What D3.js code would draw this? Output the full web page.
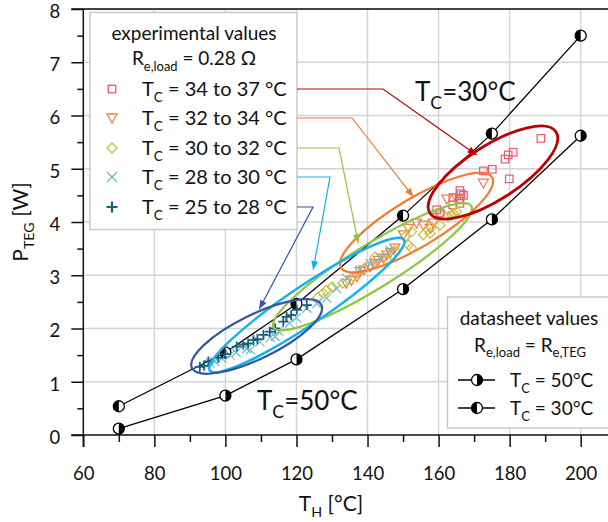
<!DOCTYPE html>
<html>
<head>
<meta charset="utf-8">
<script src="https://cdn.jsdelivr.net/npm/d3@7/dist/d3.min.js"></script>
<style>
  body { margin: 0; background: #fff; }
  text { font-family: Lato, "Open Sans", sans-serif; fill: #111; }
</style>
</head>
<body>
<svg id="chart" width="608" height="522"></svg>
<script>
// datasheet curves (R_e,load = R_e,TEG)
const sheetTH = [70, 100, 120, 150, 175, 200];
const sheetP30 = [0.54, 1.55, 2.46, 4.12, 5.66, 7.50];
const sheetP50 = [0.12, 0.74, 1.42, 2.74, 4.05, 5.62];

// experimental values, [T_H, P_TEG]
const tc34to37 = [[159.5,4.23],[160.4,4.17],[164,4.32],[166,4.35],[165.8,4.43],[164,4.46],[166.3,4.53],
  [166,4.59],[167,4.50],[172.6,4.96],[175.1,4.99],[179.9,4.81],[178.7,5.18],[179.6,5.26],[181,5.31],[188.8,5.57]];
const tc32to34 = [[134,2.85],[135.5,2.90],[137,2.97],[137.9,3.07],[139,3.10],[140.7,3.16],[142,3.22],[143,3.28],
  [144.4,3.32],[145.4,3.38],[146.5,3.43],[147.7,3.51],[150.1,3.76],[151.5,3.88],[153.8,3.98],[155.7,3.94],
  [157.6,3.88],[158.5,3.98],[160.4,4.13],[162.3,4.43],[165,4.45],[172.6,4.73]];
const tc30to32 = [[126,2.58],[127.5,2.66],[128.5,2.72],[130,2.78],[133,2.85],[136,2.98],[139,3.12],[142.1,3.34],
  [145.4,3.29],[148,3.45],[150.5,3.72],[151.5,3.57],[152.4,3.51],[152.4,3.82],[155.7,3.76],[157.6,3.79],
  [158,3.90],[160.4,3.94],[162.7,4.10],[163.7,4.13],[164.1,4.16],[165.1,4.19]];
const tc28to30 = [[95.7,1.35],[97,1.38],[99,1.44],[101.3,1.50],[103,1.55],[106,1.62],[107,1.60],[109.7,1.75],
  [112.6,1.83],[114,1.85],[115,1.95],[118,2.10],[120,2.20],[122.9,2.38],[125.7,2.47],[128.5,2.57],[131.3,2.75],
  [134.1,2.94],[137.9,3.10],[140.7,3.22],[143.5,3.34],[146.3,3.47]];
const tc25to28 = [[92.8,1.28],[94,1.30],[95.2,1.38],[98,1.45],[100,1.52],[103.2,1.66],[105,1.70],[106.4,1.72],
  [107.9,1.78],[109,1.80],[110.7,1.88],[112.5,1.94],[114,2.00],[116.3,2.13],[117.2,2.22],[118.5,2.25],
  [120.1,2.35],[122.9,2.44]];

const groupLabels = ["34 to 37", "32 to 34", "30 to 32", "28 to 30", "25 to 28"];
const xTicks = [60, 80, 100, 120, 140, 160, 180, 200];
const yTicks = [0, 1, 2, 3, 4, 5, 6, 7, 8];

const svg = d3.select("#chart");
const margin = {left: 83.3, right: 27.3, top: 9, bottom: 87};
const x = d3.scaleLinear().domain([60, 200]).range([margin.left, 608 - margin.right]);
const y = d3.scaleLinear().domain([0, 8]).range([522 - margin.bottom, margin.top]);

// grid
const grid = svg.append("g").attr("stroke", "#d4d4d4").attr("stroke-width", 1.4);
xTicks.slice(1).forEach(t => grid.append("line").attr("x1", x(t)).attr("x2", x(t)).attr("y1", y(0)).attr("y2", y(8)));
yTicks.slice(1).forEach(t => grid.append("line").attr("x1", x(60)).attr("x2", 608).attr("y1", y(t)).attr("y2", y(t)));

// axes
const xAxis = svg.append("g").attr("transform", `translate(0,${y(0)})`)
  .call(d3.axisBottom(x).tickValues(d3.range(60, 201, 10)).tickSize(7).tickFormat(""));
xAxis.selectAll(".tick line").filter(d => d % 20 === 0).attr("y2", 12);
xAxis.select(".domain").attr("d", `M${x(60) - 12},0H608`);
const xLab = svg.append("g").attr("transform", `translate(0,${y(0)})`)
  .call(d3.axisBottom(x).tickValues(xTicks).tickSize(0).tickPadding(32));
xLab.select(".domain").remove();

const yAxis = svg.append("g").attr("transform", `translate(${x(60)},0)`)
  .call(d3.axisLeft(y).tickValues(d3.range(0, 8.01, 0.5)).tickSize(6).tickFormat(""));
yAxis.selectAll(".tick line").filter(d => d % 1 === 0).attr("x2", -12);
yAxis.select(".domain").attr("d", `M0,${y(0) + 12}V${y(8)}`);
const yLab = svg.append("g").attr("transform", `translate(${x(60)},0)`)
  .call(d3.axisLeft(y).tickValues(yTicks).tickSize(0).tickPadding(23));
yLab.select(".domain").remove();
yLab.selectAll(".tick text").attr("dy", "0.45em");

svg.selectAll(".tick text").style("font-size", "18.5px").style("font-family", "Lato, sans-serif").attr("fill", "#111");
svg.selectAll(".domain, .tick line").attr("stroke", "#111").attr("stroke-width", 1.5);
svg.append("line").attr("x1", x(60) - 12).attr("x2", 608).attr("y1", y(8)).attr("y2", y(8))
  .attr("stroke", "#111").attr("stroke-width", 1.5);

// axis titles
function subText(g, main, sub, rest, size) {
  const t = g.append("text").style("font-size", size + "px");
  t.append("tspan").text(main);
  t.append("tspan").text(sub).style("font-size", (size * 0.68) + "px").attr("dy", size * 0.3);
  t.append("tspan").text(rest).attr("dy", -size * 0.3);
  return t;
}
subText(svg, "T", "H", " [°C]", 21).attr("x", 331).attr("y", 511).attr("text-anchor", "middle");
subText(svg, "P", "TEG", " [W]", 21).attr("text-anchor", "middle")
  .attr("transform", `translate(28,${y(4.0)}) rotate(-90)`);

// datasheet curves
function halfCircle(g, cx, cy, r, side) {
  g.append("circle").attr("cx", cx).attr("cy", cy).attr("r", r)
    .attr("fill", "#fff").attr("stroke", "#000").attr("stroke-width", 1.3);
  const sweep = side === "right" ? 1 : 0;
  g.append("path").attr("d", `M${cx},${cy - r}A${r},${r} 0 0 ${sweep} ${cx},${cy + r}Z`).attr("fill", "#000");
}
const line = d3.line().x(d => x(d[0])).y(d => y(d[1]));
[[sheetP30, "left"], [sheetP50, "right"]].forEach(([vals, side]) => {
  const pts = sheetTH.map((t, i) => [t, vals[i]]);
  svg.append("path").attr("d", line(pts)).attr("fill", "none").attr("stroke", "#000").attr("stroke-width", 1.3);
  const g = svg.append("g");
  pts.forEach(p => halfCircle(g, x(p[0]), y(p[1]), 5.5, side));
});

// ellipses (centre in data units, radii in px, angle in deg)
const ellipses = [
  {c: [141.4, 3.16], rx: 116, ry: 22, a: -31.6, col: "#8dc63f", w: 2.2},
  {c: [153.8, 3.99], rx: 88, ry: 24, a: -31, col: "#f47b2b", w: 2.2},
  {c: [122.9, 2.44], rx: 117, ry: 19, a: -34, col: "#14b1ec", w: 2.5},
  {c: [108.8, 1.85], rx: 72, ry: 22, a: -26, col: "#3556a0", w: 2.2},
  {c: [175.3, 4.93], rx: 75, ry: 27, a: -32.7, col: "#c00000", w: 2.8}
];

// scatter markers
const mk = svg.append("g").attr("fill", "none").attr("stroke-width", 1.2);
const sq = 7.5;
tc34to37.forEach(d => mk.append("rect").attr("x", x(d[0]) - sq / 2).attr("y", y(d[1]) - sq / 2)
  .attr("width", sq).attr("height", sq).attr("stroke", "#e8566f"));
tc32to34.forEach(d => mk.append("path").attr("transform", `translate(${x(d[0])},${y(d[1])})`)
  .attr("d", "M-5,-4L5,-4L0,5Z").attr("stroke", "#f07f45"));
tc30to32.forEach(d => mk.append("path").attr("transform", `translate(${x(d[0])},${y(d[1])})`)
  .attr("d", "M0,-5L5,0L0,5L-5,0Z").attr("stroke", "#c3c23a"));
tc28to30.forEach(d => mk.append("path").attr("transform", `translate(${x(d[0])},${y(d[1])})`)
  .attr("d", "M-4.5,-4.5L4.5,4.5M-4.5,4.5L4.5,-4.5").attr("stroke", "#6cbcc6"));
tc25to28.forEach(d => mk.append("path").attr("transform", `translate(${x(d[0])},${y(d[1])})`)
  .attr("d", "M-5,0H5M0,-5V5").attr("stroke", "#1b5f7f").attr("stroke-width", 1.8));

ellipses.forEach(e => svg.append("ellipse")
  .attr("transform", `translate(${x(e.c[0])},${y(e.c[1])}) rotate(${e.a})`)
  .attr("rx", e.rx).attr("ry", e.ry).attr("fill", "none").attr("stroke", e.col).attr("stroke-width", e.w));

// experimental legend
const leg = svg.append("g");
leg.append("rect").attr("x", 90).attr("y", 12.5).attr("width", 207).attr("height", 217)
  .attr("fill", "#fff").attr("stroke", "#c6c6c6").attr("stroke-width", 1.4);
leg.append("text").attr("x", 194).attr("y", 40).attr("text-anchor", "middle").style("font-size", "19px")
  .text("experimental values");
subText(leg, "R", "e,load", " = 0.28 Ω", 19).attr("x", 194).attr("y", 65).attr("text-anchor", "middle");

// leader lines from legend to ellipses: [legend row y, elbow x, tip T_H, tip P, colour]
const leaders = [
  [89, 383, 170.7, 5.26, "#c00000"],
  [118, 352, 152.9, 4.47, "#f47b2b"],
  [148, 339, 137.4, 3.60, "#8dc63f"],
  [177, 330, 124.7, 3.10, "#14b1ec"],
  [207, 313, 109.5, 2.36, "#3556a0"]
];
leaders.forEach((l, i) => {
  const tx = x(l[2]), ty = y(l[3]);
  svg.append("path").attr("d", `M297,${l[0]}H${l[1]}L${tx},${ty}`)
    .attr("fill", "none").attr("stroke", l[4]).attr("stroke-width", 1.2);
  const ang = Math.atan2(ty - l[0], tx - l[1]) * 180 / Math.PI;
  svg.append("path").attr("transform", `translate(${tx},${ty}) rotate(${ang})`)
    .attr("d", "M0,0L-9,-3.5L-9,3.5Z").attr("fill", l[4]);
});

const rowY = [89, 118, 148, 177, 207];
const legMk = leg.append("g").attr("fill", "none").attr("stroke-width", 1.3);
legMk.append("rect").attr("x", 112 - sq / 2).attr("y", rowY[0] - sq / 2).attr("width", sq).attr("height", sq).attr("stroke", "#e8566f");
legMk.append("path").attr("transform", `translate(112,${rowY[1]})`).attr("d", "M-5,-4L5,-4L0,5Z").attr("stroke", "#f07f45");
legMk.append("path").attr("transform", `translate(112,${rowY[2]})`).attr("d", "M0,-5L5,0L0,5L-5,0Z").attr("stroke", "#c3c23a");
legMk.append("path").attr("transform", `translate(112,${rowY[3]})`).attr("d", "M-5,-5L5,5M-5,5L5,-5").attr("stroke", "#6cbcc6");
legMk.append("path").attr("transform", `translate(112,${rowY[4]})`).attr("d", "M-5.5,0H5.5M0,-5.5V5.5").attr("stroke", "#1b5f7f").attr("stroke-width", 2.2);
groupLabels.forEach((g, i) => subText(leg, "T", "C", " = " + g + " °C", 20).attr("x", 142).attr("y", rowY[i] + 7));

// datasheet legend
const leg2 = svg.append("g");
leg2.append("rect").attr("x", 447.5).attr("y", 297).attr("width", 170).attr("height", 131)
  .attr("fill", "#fff").attr("stroke", "#c6c6c6").attr("stroke-width", 1.4);
leg2.append("text").attr("x", 529).attr("y", 325).attr("text-anchor", "middle").style("font-size", "19px")
  .text("datasheet values");
const r2 = leg2.append("text").attr("x", 530).attr("y", 352).attr("text-anchor", "middle").style("font-size", "19px");
r2.append("tspan").text("R");
r2.append("tspan").text("e,load").style("font-size", "13px").attr("dy", 5);
r2.append("tspan").text(" = R").attr("dy", -5);
r2.append("tspan").text("e,TEG").style("font-size", "13px").attr("dy", 5);
[[380, "right", "50°C"], [408, "left", "30°C"]].forEach(([ry, side, lab]) => {
  leg2.append("line").attr("x1", 458).attr("x2", 495).attr("y1", ry).attr("y2", ry).attr("stroke", "#000").attr("stroke-width", 1.3);
  halfCircle(leg2, 477, ry, 5.5, side);
  subText(leg2, "T", "C", " = " + lab, 19).attr("x", 510).attr("y", ry + 7);
});

// curve annotations
subText(svg, "T", "C", "=30°C", 26).attr("x", 415).attr("y", 101);
subText(svg, "T", "C", "=50°C", 26).attr("x", 257).attr("y", 410);
</script>
</body>
</html>
